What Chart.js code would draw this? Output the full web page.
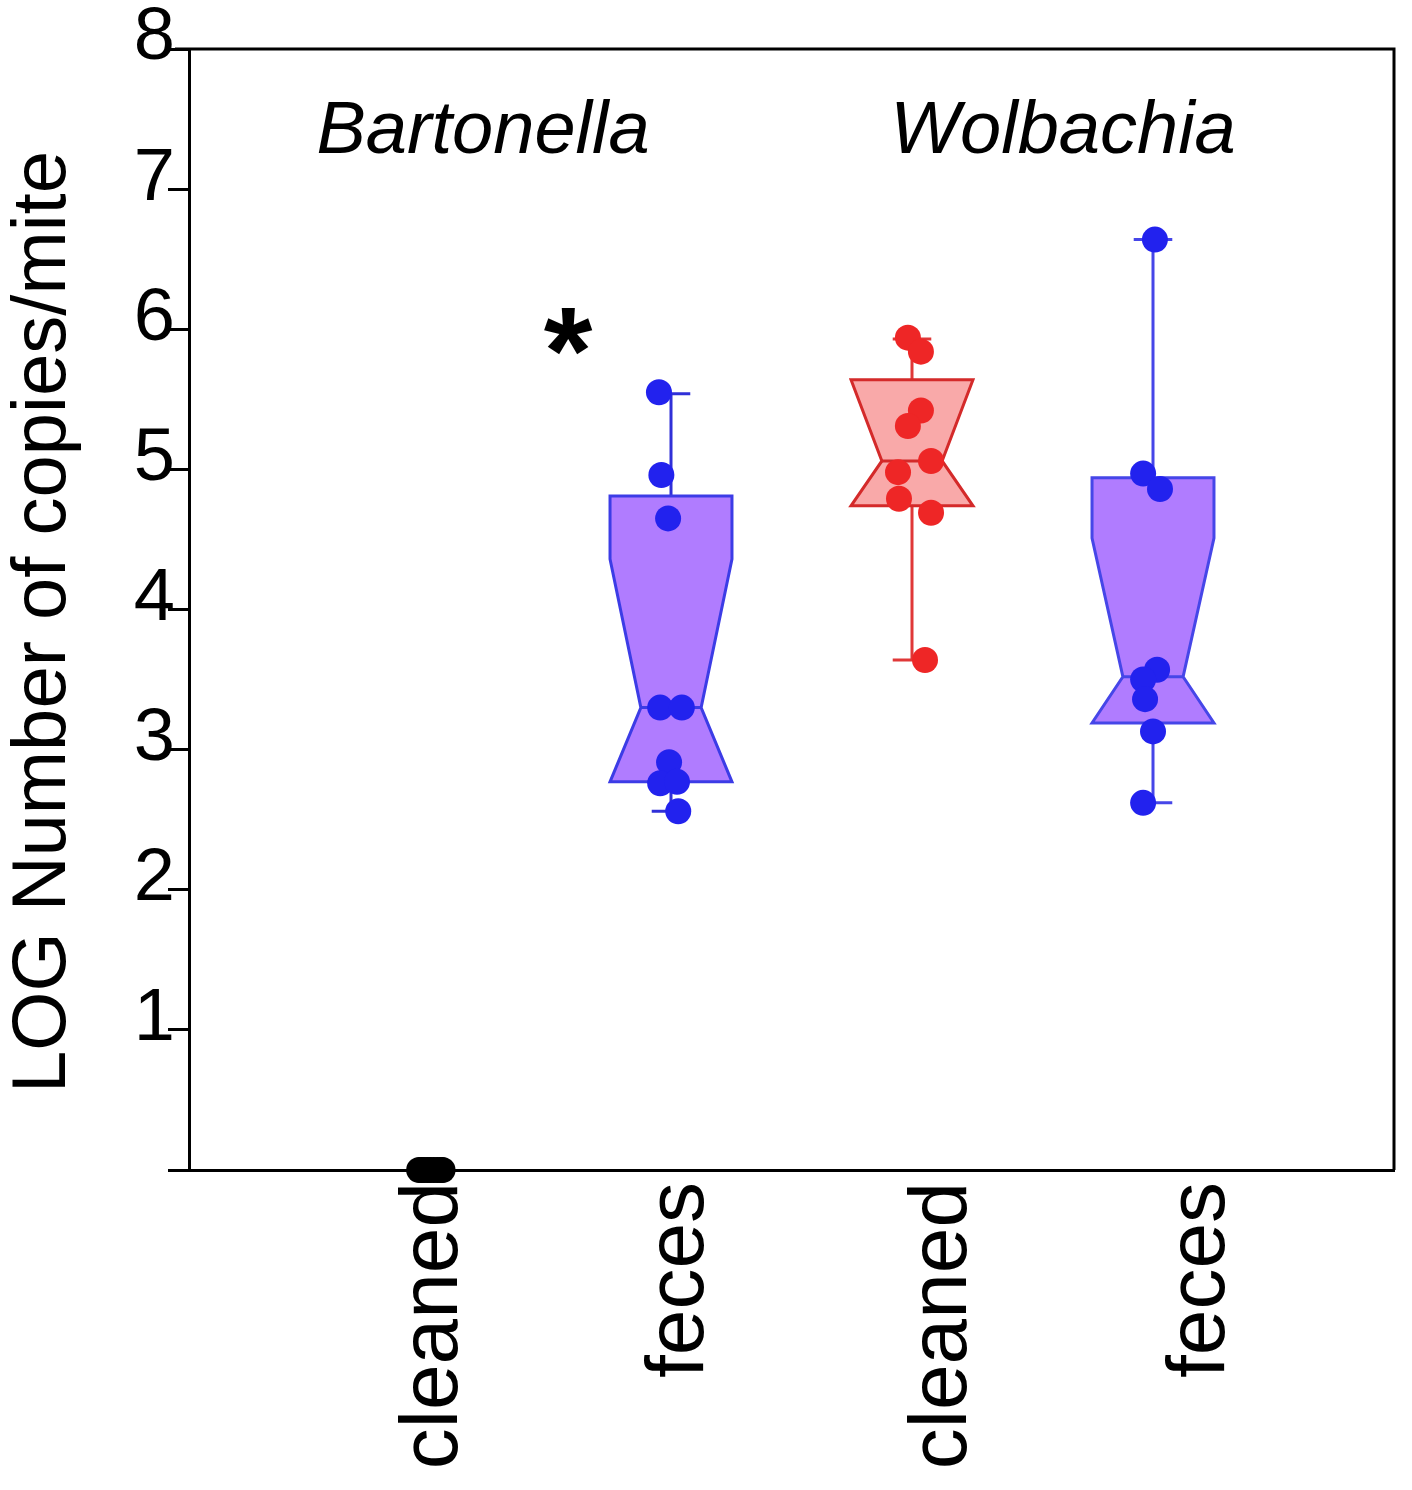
<!DOCTYPE html>
<html>
<head>
<meta charset="utf-8">
<script src="https://cdn.jsdelivr.net/npm/chart.js@4"></script>
<style>
  html, body { margin: 0; padding: 0; background: #fff; }
  #wrap { width: 1412px; height: 1490px; position: relative; }
</style>
</head>
<body>
<div id="wrap"><canvas id="chart"></canvas></div>
<script>
// Groups along the x axis (linear positions 0..3)
const categories = ['cleaned', 'feces', 'cleaned', 'feces'];
const groupPositions = [0, 1, 2, 3];
// where the category names sit on the axis (the original figure sets them slightly right of the boxes)
const labelPositions = [0.02, 1.04, 2.13, 3.2];
const yTicks = [0, 1, 2, 3, 4, 5, 6, 7, 8];

// Individual measurements (LOG copies/mite)
const bartCleaned = [0, 0, 0, 0, 0, 0, 0, 0, 0];
const bartFeces = [5.55, 4.96, 4.65, 3.30, 3.30, 2.91, 2.76, 2.77, 2.56];
const wolCleaned = [5.94, 5.84, 5.42, 5.31, 5.06, 4.98, 4.79, 4.69, 3.64];
const wolFeces = [6.64, 4.97, 4.86, 3.57, 3.50, 3.36, 3.13, 2.62];

// horizontal scatter of the dots, in group widths
const bartCleanedJitter = [-0.045, -0.035, -0.025, -0.01, 0, 0.015, 0.03, 0.045, 0.052];
const bartFecesJitter = [-0.05, -0.04, -0.012, -0.045, 0.045, -0.008, -0.045, 0.025, 0.03];
const wolCleanedJitter = [-0.017, 0.037, 0.037, -0.017, 0.079, -0.058, -0.054, 0.079, 0.054];
const wolFecesJitter = [0.008, -0.041, 0.029, 0.017, -0.041, -0.033, 0, -0.041];

// Box summaries per group (null = no box)
const q1 = [null, 2.77, 4.74, 3.19];
const median = [null, 3.30, 5.06, 3.52];
const q3 = [null, 4.81, 5.64, 4.94];
const notchLow = [null, 2.24, 4.42, 2.53];
const notchHigh = [null, 4.36, 5.70, 4.51];
const whiskerLow = [null, 2.56, 3.64, 2.62];
const whiskerHigh = [null, 5.54, 5.93, 6.64];

const boxFill = [null, '#b07cff', '#f9a9a9', '#b07cff'];
const boxStroke = [null, '#3c3ce6', '#d42a2a', '#4646e8'];
const whiskerColor = [null, '#3030d8', '#e03838', '#4646e8'];

const BOX_HALF = 0.253;
const NOTCH_HALF = 0.125;
const CAP_HALF = 0.08;
const FONT = '"Liberation Sans", Arial, sans-serif';

function toPoints(values, jitter, pos) {
    return values.map((v, i) => ({ x: pos + jitter[i], y: v }));
}

const notchedBoxes = {
    id: 'notchedBoxes',
    beforeDatasetsDraw(chart) {
        const { ctx, scales: { x, y } } = chart;
        ctx.save();
        groupPositions.forEach((pos, i) => {
            if (q1[i] === null) return;
            const cx = x.getPixelForValue(pos);
            const half = x.getPixelForValue(pos + BOX_HALF) - cx;
            const nh = x.getPixelForValue(pos + NOTCH_HALF) - cx;
            const cap = x.getPixelForValue(pos + CAP_HALF) - cx;
            const yQ1 = y.getPixelForValue(q1[i]);
            const yQ3 = y.getPixelForValue(q3[i]);
            const yMed = y.getPixelForValue(median[i]);
            const yNHi = y.getPixelForValue(Math.min(notchHigh[i], q3[i]));
            const yNLo = y.getPixelForValue(Math.max(notchLow[i], q1[i]));
            const yWLo = y.getPixelForValue(whiskerLow[i]);
            const yWHi = y.getPixelForValue(whiskerHigh[i]);

            // whiskers
            ctx.strokeStyle = whiskerColor[i];
            ctx.lineWidth = 3;
            ctx.beginPath();
            ctx.moveTo(cx, yQ3); ctx.lineTo(cx, yWHi);
            ctx.moveTo(cx - cap, yWHi); ctx.lineTo(cx + cap, yWHi);
            ctx.moveTo(cx, yQ1); ctx.lineTo(cx, yWLo);
            ctx.moveTo(cx - cap, yWLo); ctx.lineTo(cx + cap, yWLo);
            ctx.stroke();

            // notched box
            ctx.beginPath();
            ctx.moveTo(cx - half, yQ3);
            ctx.lineTo(cx + half, yQ3);
            ctx.lineTo(cx + half, yNHi);
            ctx.lineTo(cx + nh, yMed);
            ctx.lineTo(cx + half, yNLo);
            ctx.lineTo(cx + half, yQ1);
            ctx.lineTo(cx - half, yQ1);
            ctx.lineTo(cx - half, yNLo);
            ctx.lineTo(cx - nh, yMed);
            ctx.lineTo(cx - half, yNHi);
            ctx.closePath();
            ctx.fillStyle = boxFill[i];
            ctx.fill();
            ctx.strokeStyle = boxStroke[i];
            ctx.lineWidth = 3;
            ctx.stroke();
            ctx.beginPath();
            ctx.moveTo(cx - nh, yMed); ctx.lineTo(cx + nh, yMed);
            ctx.stroke();
        });
        ctx.restore();
    },
    afterDraw(chart) {
        const { ctx, chartArea: a } = chart;
        ctx.save();
        // frame top and right
        ctx.strokeStyle = '#000';
        ctx.lineWidth = 3;
        ctx.beginPath();
        ctx.moveTo(a.left - 14, a.top);
        ctx.lineTo(a.right, a.top);
        ctx.lineTo(a.right, a.bottom);
        ctx.stroke();
        ctx.fillStyle = '#000';
        // y axis title
        ctx.save();
        ctx.translate(44, 622);
        ctx.rotate(-Math.PI / 2);
        ctx.textAlign = 'center';
        ctx.textBaseline = 'middle';
        ctx.font = '76px ' + FONT;
        ctx.fillText('LOG Number of copies/mite', 0, 0);
        ctx.restore();
        // species labels and significance mark
        ctx.textAlign = 'center';
        ctx.textBaseline = 'alphabetic';
        ctx.font = 'italic 74px ' + FONT;
        ctx.fillText('Bartonella', 483, 153);
        ctx.fillText('Wolbachia', 1063, 153);
        ctx.font = 'bold 125px ' + FONT;
        ctx.fillText('*', 568, 394);
        ctx.restore();
    }
};

document.addEventListener('DOMContentLoaded', function () {
    const canvas = document.getElementById('chart').getContext('2d');
    new Chart(canvas, {
        type: 'scatter',
        data: {
            datasets: [
                { label: 'Bartonella cleaned', data: toPoints(bartCleaned, bartCleanedJitter, 0), backgroundColor: '#000', borderColor: '#000', clip: false },
                { label: 'Bartonella feces', data: toPoints(bartFeces, bartFecesJitter, 1), backgroundColor: '#2222ee', borderColor: '#2222ee' },
                { label: 'Wolbachia cleaned', data: toPoints(wolCleaned, wolCleanedJitter, 2), backgroundColor: '#ee2626', borderColor: '#ee2626' },
                { label: 'Wolbachia feces', data: toPoints(wolFeces, wolFecesJitter, 3), backgroundColor: '#2222ee', borderColor: '#2222ee' },
            ],
        },
        options: {
            responsive: true,
            maintainAspectRatio: false,
            animation: false,
            layout: { padding: { top: 49, right: 18, left: 0, bottom: 0 } },
            elements: { point: { radius: 13, borderWidth: 0, hoverRadius: 13 } },
            plugins: { legend: { display: false }, tooltip: { enabled: false } },
            scales: {
                x: {
                    type: 'linear',
                    min: -1,
                    max: 4,
                    afterBuildTicks: (scale) => { scale.ticks = labelPositions.map(v => ({ value: v })); },
                    afterFit: (scale) => { scale.height = 320; },
                    grid: { display: false, drawTicks: false },
                    border: { display: true, color: '#000', width: 3 },
                    ticks: {
                        autoSkip: false,
                        minRotation: 90,
                        maxRotation: 90,
                        padding: 12,
                        color: '#000',
                        font: { family: FONT, size: 82 },
                        callback: (v) => categories[labelPositions.indexOf(v)] ?? '',
                    },
                },
                y: {
                    min: 0,
                    max: 8,
                    afterBuildTicks: (scale) => { scale.ticks = yTicks.map(v => ({ value: v })); },
                    afterFit: (scale) => { scale.width = 189; },
                    grid: { drawOnChartArea: false, drawTicks: true, tickLength: 21, color: '#000', lineWidth: 3 },
                    border: { display: true, color: '#000', width: 3 },
                    ticks: {
                        padding: -7,
                        labelOffset: -10,
                        color: '#000',
                        font: { family: FONT, size: 74 },
                        callback: (v) => (v === 0 ? '' : v),
                    },
                },
            },
        },
        plugins: [notchedBoxes],
    });
});
</script>
</body>
</html>
